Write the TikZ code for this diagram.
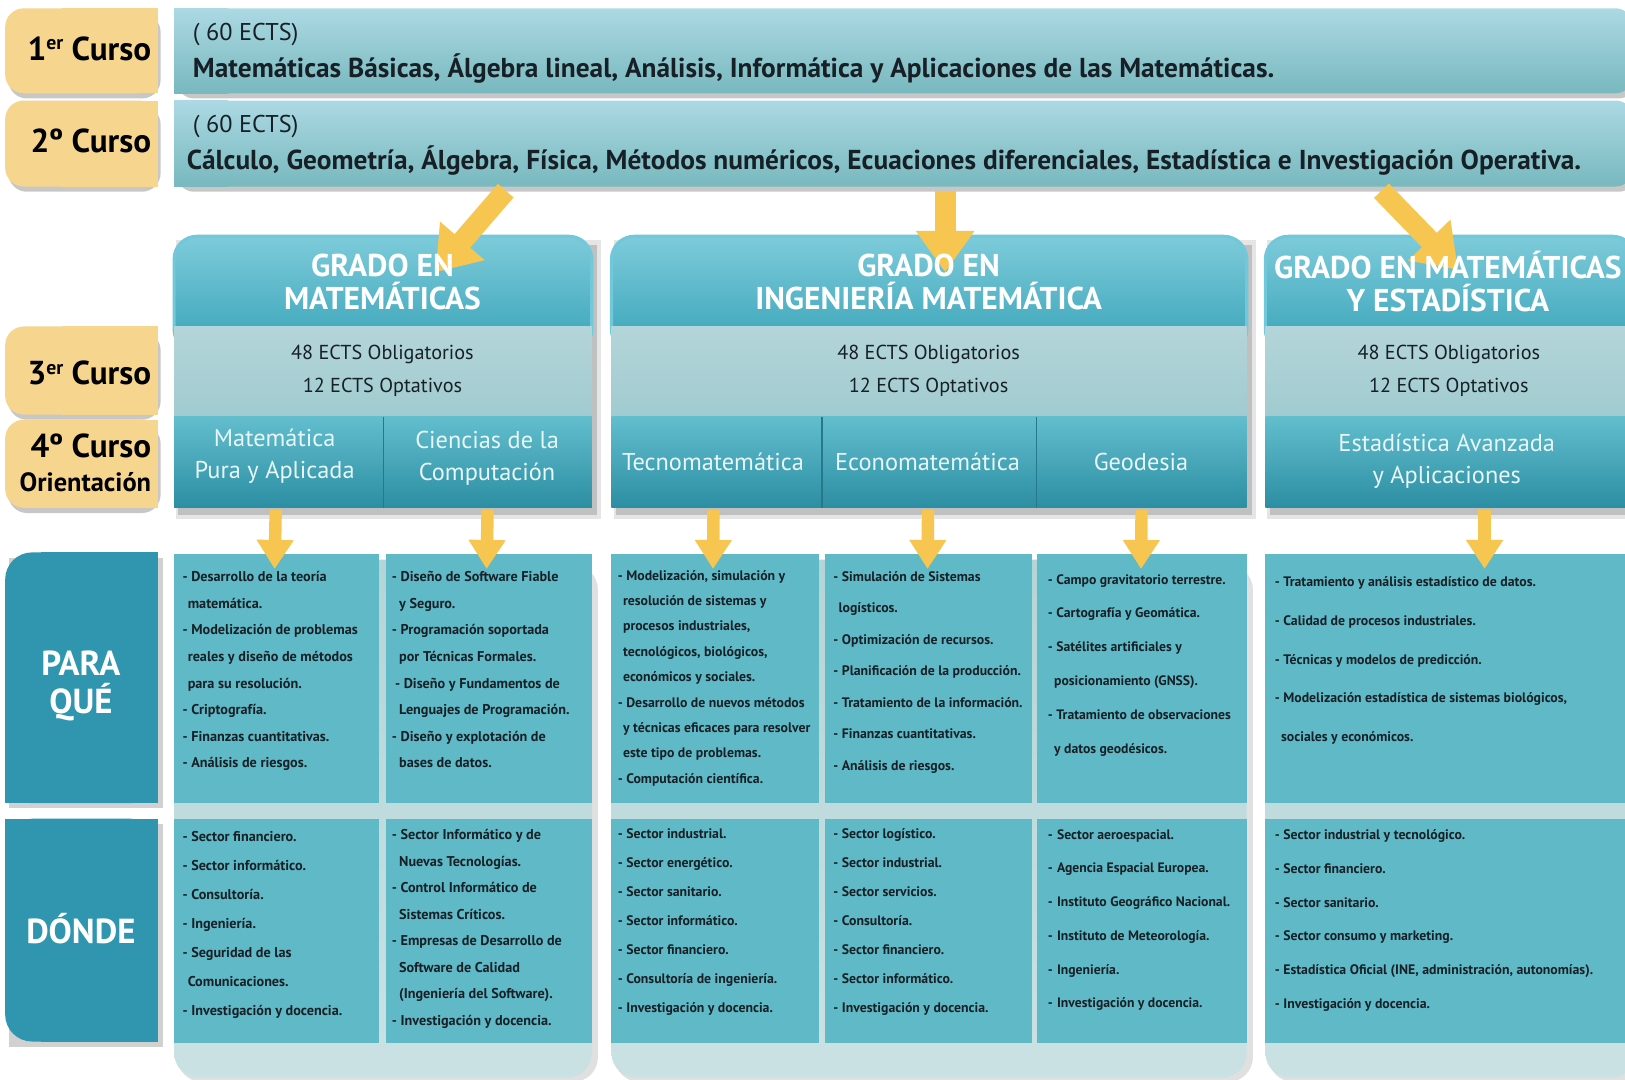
\documentclass[tikz,border=0pt]{standalone}
\usepackage{fontspec}
\setmainfont{PT Sans}
\usetikzlibrary{arrows.meta,calc,shadows}
\definecolor{tanc}{RGB}{246,214,142}
\definecolor{barTop}{RGB}{172,217,227}
\definecolor{barBot}{RGB}{120,184,190}
\definecolor{hdTop}{RGB}{125,203,218}
\definecolor{hdBot}{RGB}{56,163,184}
\definecolor{hdEdge}{RGB}{112,200,218}
\definecolor{ectsTop}{RGB}{180,213,217}
\definecolor{ectsBot}{RGB}{160,203,208}
\definecolor{orTop}{RGB}{98,190,205}
\definecolor{orBot}{RGB}{44,142,163}
\definecolor{divc}{RGB}{40,120,140}
\definecolor{cellc}{RGB}{96,185,198}
\definecolor{labc}{RGB}{48,150,176}
\definecolor{contc}{RGB}{180,213,215}
\definecolor{arrc}{RGB}{246,198,80}
\definecolor{txtc}{RGB}{22,32,38}
\definecolor{ortxt}{RGB}{232,246,247}
\newcommand\sups[1]{\raisebox{10pt}{\fontsize{19}{19}\selectfont #1}}
\newcommand\ctext[6]{\node[celltxt, font=\bfseries\fontsize{#4}{#5}\selectfont] (#1) at (#2,#3) {#6};}
\tikzset{
  box/.style={anchor=north west, inner sep=0pt, outer sep=0pt, minimum width=#1},
  curso/.style={anchor=base east, inner sep=0pt, font=\bfseries\fontsize{32}{34}\selectfont, text=black},
  bartxt/.style={anchor=base west, inner sep=0pt, text=txtc},
  gtitle/.style={align=center, inner sep=0pt, text=white, font=\bfseries\fontsize{30.4}{32}\selectfont},
  ectstxt/.style={align=center, inner sep=0pt, text=txtc, font=\fontsize{19.5}{32}\selectfont},
  ortx/.style={align=center, inner sep=0pt, text=ortxt, font=\fontsize{23.5}{31}\selectfont},
  labtxt/.style={align=center, inner sep=0pt, text=white, font=\bfseries\fontsize{33.5}{37}\selectfont},
  celltxt/.style={anchor=north west, align=left, inner sep=0pt, text=txtc},
  bigarr/.style={draw=arrc, line width=20pt, -{Triangle[width=54pt,length=40pt]}},
  smallarr/.style={draw=arrc, line width=12pt, -{Triangle[width=34pt,length=28pt]}},
  softshadow/.style={drop shadow={shadow xshift=3pt, shadow yshift=-5pt, fill=black, opacity=0.22}}
}
\begin{document}
\begin{tikzpicture}[x=1pt,y=-1pt]
\clip (0,0) rectangle (1568,1042);
\fill[white] (0,0) rectangle (1568,1042);

% ---------- tan course labels ----------
\foreach \ya/\yb in {8/90, 97/180, 315/400, 405/490} {
  \fill[tanc, rounded corners=18, softshadow] (5,\ya) rectangle (152,\yb);
  \fill[tanc] (60,\ya) rectangle (152,\yb);
}
\node[curso] (c1) at (146,58) {1\sups{er} Curso};
\node[curso] (c2) at (146,147) {2º Curso};
\node[curso] (c3) at (146,371) {3\sups{er} Curso};
\node[curso] (c4) at (146,441) {4º Curso};
\node[curso, font=\bfseries\fontsize{25.5}{27}\selectfont] (c4o) at (146,474) {Orientación};

% ---------- top bars ----------
\foreach \ya/\yb in {8/90, 97/180} {
  \shade[top color=barTop, bottom color=barBot, rounded corners=16, softshadow] (168,\ya) rectangle (1575,\yb);
  \shade[top color=barTop, bottom color=barBot] (168,\ya) rectangle (220,\yb);
}
\node[box=1407, minimum height=82] (bar1) at (168,8) {};
\node[box=1407, minimum height=83] (bar2) at (168,97) {};
\node[bartxt, font=\fontsize{23.4}{25}\selectfont] (e1) at (186,39) {( 60 ECTS)};
\node[bartxt, font=\bfseries\fontsize{26.4}{28}\selectfont] (m1) at (186,75) {Matemáticas Básicas, Álgebra lineal, Análisis, Informática y Aplicaciones de las Matemáticas.};
\node[bartxt, font=\fontsize{23.4}{25}\selectfont] (e2) at (186,128) {( 60 ECTS)};
\node[bartxt, font=\bfseries\fontsize{26.4}{28}\selectfont] (m2) at (180,164) {Cálculo, Geometría, Álgebra, Física, Métodos numéricos, Ecuaciones diferenciales, Estadística e Investigación Operativa.};

% ---------- degree columns ----------
\foreach \xa/\xb in {168/571, 590/1203, 1221/1578} {
  \fill[black, opacity=0.16] ({\xa+4},236) rectangle ({\xb+5},497);
  \fill[black, opacity=0.10] ({\xa+2},232) rectangle ({\xb+9},501);
  \shade[top color=hdTop, bottom color=hdBot, rounded corners=22, draw=hdEdge, line width=3pt] (\xa,228) rectangle (\xb,340);
  \shade[top color=ectsTop, bottom color=ectsBot] (\xa,315) rectangle (\xb,402);
  \shade[top color=orTop, bottom color=orBot] (\xa,402) rectangle (\xb,490);
}
\foreach \xd in {370, 793, 1000} {
  \draw[divc, line width=1.5pt] (\xd,402) -- (\xd,490);
}
% title anchors (invisible), texts are drawn after the arrows
\node[gtitle, text opacity=0] (gA) at (369,272) {GRADO EN\\MATEMÁTICAS};
\node[gtitle, text opacity=0] (gB) at (896,272) {GRADO EN\\INGENIERÍA MATEMÁTICA};
\node[gtitle, text opacity=0] (gC) at (1397,272) {GRADO EN MATEMÁTICAS\\Y ESTADÍSTICA};
\node[ectstxt] (eA) at (369,358) {48 ECTS Obligatorios\\12 ECTS Optativos};
\node[ectstxt] (eB) at (896,358) {48 ECTS Obligatorios\\12 ECTS Optativos};
\node[ectstxt] (eC) at (1398,358) {48 ECTS Obligatorios\\12 ECTS Optativos};

% orientation boxes (anchors) and texts
\node[box=202, minimum height=88] (oA1) at (168,402) {};
\node[box=201, minimum height=88] (oA2) at (370,402) {};
\node[box=203, minimum height=88] (oB1) at (590,402) {};
\node[box=207, minimum height=88] (oB2) at (793,402) {};
\node[box=203, minimum height=88] (oB3) at (1000,402) {};
\node[box=357, minimum height=88] (oC) at (1221,402) {};
\node[ortx] (rA1) at (265,440) {Matemática\\Pura y Aplicada};
\node[ortx] (rA2) at (470,442) {Ciencias de la\\Computación};
\node[ortx] (rB1) at (688,446) {Tecnomatemática};
\node[ortx] (rB2) at (895,446) {Economatemática};
\node[ortx] (rB3) at (1101,446) {Geodesia};
\node[ortx] (rC) at (1396,445) {Estadística Avanzada\\y Aplicaciones};

% ---------- containers behind cells ----------
\foreach \xa/\xb in {168/571, 590/1203, 1221/1578} {
  \fill[black, opacity=0.12] ({\xa+3},545) [rounded corners=24] rectangle ({\xb+6},1044);
  \shade[top color=contc, bottom color=contc!70!white, rounded corners=24] (\xa,540) rectangle (\xb,1040);
}

% ---------- cells ----------
\tikzset{cell/.style={box=#1, fill=cellc}}
\node[cell=198, minimum height=240] (qA1) at (168,535) {};
\node[cell=199, minimum height=240] (qA2) at (372,535) {};
\node[cell=200, minimum height=240] (qB1) at (590,535) {};
\node[cell=200, minimum height=240] (qB2) at (796,535) {};
\node[cell=202, minimum height=240] (qB3) at (1001,535) {};
\node[cell=357, minimum height=240] (qC) at (1221,535) {};
\node[cell=198, minimum height=216] (dA1) at (168,790) {};
\node[cell=199, minimum height=216] (dA2) at (372,790) {};
\node[cell=200, minimum height=216] (dB1) at (590,790) {};
\node[cell=200, minimum height=216] (dB2) at (796,790) {};
\node[cell=202, minimum height=216] (dB3) at (1001,790) {};
\node[cell=357, minimum height=216] (dC) at (1221,790) {};

% ---------- left row labels ----------
\fill[black, opacity=0.18] (9,538) rectangle (157,780);
\fill[labc, rounded corners=26] (5,533) rectangle (152,775);
\fill[labc] (5,565) rectangle (152,775);
\fill[labc] (40,533) rectangle (152,565);
\fill[black, opacity=0.18] (9,795) rectangle (157,1010);
\fill[labc, rounded corners=26] (5,790) rectangle (152,1005);
\fill[labc] (5,790) rectangle (152,975);
\fill[labc] (40,975) rectangle (152,1005);
\node[labtxt] (pq) at (78,662) {PARA\\QUÉ};
\node[labtxt] (dn) at (78,896) {DÓNDE};

% ---------- cell texts ----------
\ctext{tA1}{176}{551}{13.7}{25.7}{- Desarrollo de la teoría\\\hspace*{5pt}matemática.\\- Modelización de problemas\\\hspace*{5pt}reales y diseño de métodos\\\hspace*{5pt}para su resolución.\\- Criptografía.\\- Finanzas cuantitativas.\\- Análisis de riesgos.}
\ctext{tA2}{378}{551}{13.7}{25.7}{- Diseño de Software Fiable\\\hspace*{7pt}y Seguro.\\- Programación soportada\\\hspace*{7pt}por Técnicas Formales.\\\hspace*{3pt}- Diseño y Fundamentos de\\\hspace*{7pt}Lenguajes de Programación.\\- Diseño y explotación de\\\hspace*{7pt}bases de datos.}
\ctext{tB1}{596}{550}{13.3}{24.5}{- Modelización, simulación y\\\hspace*{5pt}resolución de sistemas y\\\hspace*{5pt}procesos industriales,\\\hspace*{5pt}tecnológicos, biológicos,\\\hspace*{5pt}económicos y sociales.\\- Desarrollo de nuevos métodos\\\hspace*{5pt}y técnicas eficaces para resolver\\\hspace*{5pt}este tipo de problemas.\\- Computación científica.}
\ctext{tB2}{804}{551}{13.3}{30.4}{- Simulación de Sistemas\\\hspace*{5pt}logísticos.\\- Optimización de recursos.\\- Planificación de la producción.\\- Tratamiento de la información.\\- Finanzas cuantitativas.\\- Análisis de riesgos.}
\ctext{tB3}{1011}{554}{13.2}{32.6}{- Campo gravitatorio terrestre.\\- Cartografía y Geomática.\\- Satélites artificiales y\\\hspace*{6pt}posicionamiento (GNSS).\\- Tratamiento de observaciones\\\hspace*{6pt}y datos geodésicos.}
\ctext{tC}{1230}{556}{13.3}{37.5}{- Tratamiento y análisis estadístico de datos.\\- Calidad de procesos industriales.\\- Técnicas y modelos de predicción.\\- Modelización estadística de sistemas biológicos,\\\hspace*{6pt}sociales y económicos.}

\ctext{uA1}{176}{802}{13.7}{28}{- Sector financiero.\\- Sector informático.\\- Consultoría.\\- Ingeniería.\\- Seguridad de las\\\hspace*{5pt}Comunicaciones.\\- Investigación y docencia.}
\ctext{uA2}{378}{800}{13.7}{25.6}{- Sector Informático y de\\\hspace*{7pt}Nuevas Tecnologías.\\- Control Informático de\\\hspace*{7pt}Sistemas Críticos.\\- Empresas de Desarrollo de\\\hspace*{7pt}Software de Calidad\\\hspace*{7pt}(Ingeniería del Software).\\- Investigación y docencia.}
\ctext{uB1}{596}{799}{13.3}{28}{- Sector industrial.\\- Sector energético.\\- Sector sanitario.\\- Sector informático.\\- Sector financiero.\\- Consultoría de ingeniería.\\- Investigación y docencia.}
\ctext{uB2}{804}{799}{13.3}{28}{- Sector logístico.\\- Sector industrial.\\- Sector servicios.\\- Consultoría.\\- Sector financiero.\\- Sector informático.\\- Investigación y docencia.}
\ctext{uB3}{1011}{800}{13.2}{32.6}{-\hspace*{4pt}Sector aeroespacial.\\-\hspace*{4pt}Agencia Espacial Europea.\\-\hspace*{4pt}Instituto Geográfico Nacional.\\-\hspace*{4pt}Instituto de Meteorología.\\-\hspace*{4pt}Ingeniería.\\-\hspace*{4pt}Investigación y docencia.}
\ctext{uC}{1230}{800}{13.3}{32.7}{- Sector industrial y tecnológico.\\- Sector financiero.\\- Sector sanitario.\\- Sector consumo y marketing.\\- Estadística Oficial (INE, administración, autonomías).\\- Investigación y docencia.}

% ---------- arrows ----------
\draw[bigarr] ($(bar2.south west)+(320,4)$) -- ($(gA.north)+(51,18)$);
\draw[bigarr] ($(bar2.south west)+(744,4)$) -- ($(gB.north)+(16,18)$);
\draw[bigarr] ($(bar2.south west)+(1165,4)$) -- ($(gC.north)+(10,18)$);

\draw[smallarr] ($(oA1.south)+(-3,2)$) -- ($(qA1.north)+(-2,14)$);
\draw[smallarr] ($(oA2.south)+(0,2)$) -- ($(qA2.north)+(-2,14)$);
\draw[smallarr] ($(oB1.south)+(-3,2)$) -- ($(qB1.north)+(-2,14)$);
\draw[smallarr] ($(oB2.south)+(-1,2)$) -- ($(qB2.north)+(-1,14)$);
\draw[smallarr] ($(oB3.south)+(0,2)$) -- ($(qB3.north)+(-1,14)$);
\draw[smallarr] ($(oC.south)+(33,2)$) -- ($(qC.north)+(33,14)$);

% ---------- degree titles over the arrow tips ----------
\node[gtitle] (gAt) at (gA) {GRADO EN\\MATEMÁTICAS};
\node[gtitle] (gBt) at (gB) {GRADO EN\\INGENIERÍA MATEMÁTICA};
\node[gtitle] (gCt) at (gC) {GRADO EN MATEMÁTICAS\\Y ESTADÍSTICA};
\end{tikzpicture}
\end{document}
